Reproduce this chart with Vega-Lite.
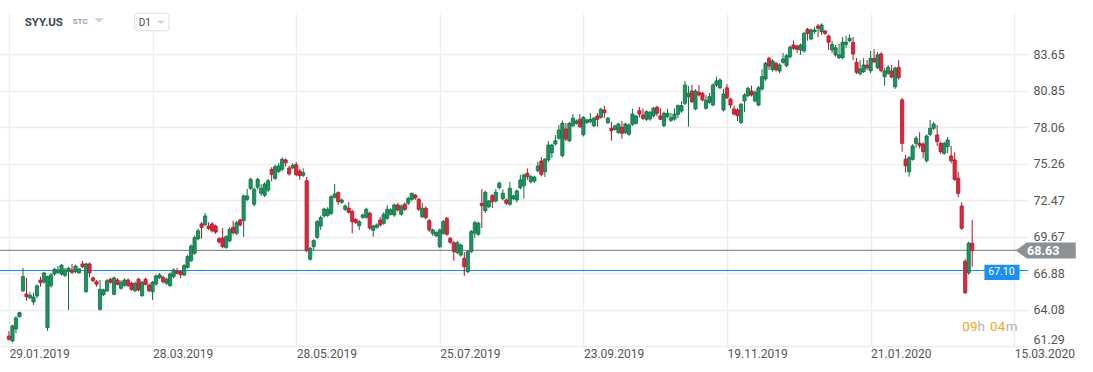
{
"$schema": "https://vega.github.io/schema/vega-lite/v6.json",
"width": 1028, "height": 333,
"autosize": {"type": "none"},
"padding": {"left": 0, "top": 14, "right": 65, "bottom": 25},
"background": "#ffffff",
"config": {"font": "Roboto", "view": {"stroke": null}},
"data": {"values": [
{"i":0,"o":62.09,"h":62.47,"l":61.75,"c":61.84},
{"i":1,"o":61.72,"h":62.95,"l":61.6,"c":62.86},
{"i":2,"o":62.63,"h":63.6,"l":62.32,"c":63.47},
{"i":3,"o":63.57,"h":63.95,"l":63.5,"c":63.87},
{"i":4,"o":65.55,"h":67.29,"l":65.45,"c":66.63},
{"i":5,"o":65.3,"h":66.53,"l":64.79,"c":65.1},
{"i":6,"o":65.02,"h":65.45,"l":64.9,"c":65.2},
{"i":7,"o":64.69,"h":65.4,"l":64.46,"c":65.07},
{"i":8,"o":65.15,"h":66.05,"l":65.0,"c":65.92},
{"i":9,"o":66.37,"h":66.63,"l":65.86,"c":66.17},
{"i":10,"o":66.22,"h":67.0,"l":66.1,"c":66.91},
{"i":11,"o":62.73,"h":66.7,"l":62.5,"c":66.63},
{"i":12,"o":65.94,"h":66.9,"l":65.8,"c":66.76},
{"i":13,"o":66.83,"h":67.3,"l":66.7,"c":67.19},
{"i":14,"o":66.96,"h":67.44,"l":66.85,"c":67.14},
{"i":15,"o":66.83,"h":67.6,"l":66.7,"c":67.5},
{"i":16,"o":66.73,"h":67.3,"l":66.6,"c":67.14},
{"i":17,"o":67.04,"h":67.35,"l":64.08,"c":67.27},
{"i":18,"o":67.14,"h":67.6,"l":66.85,"c":66.96},
{"i":19,"o":67.01,"h":67.55,"l":66.9,"c":67.44},
{"i":20,"o":66.93,"h":67.3,"l":66.85,"c":67.21},
{"i":21,"o":67.6,"h":67.83,"l":67.3,"c":67.39},
{"i":22,"o":65.48,"h":67.7,"l":65.4,"c":67.6},
{"i":23,"o":67.6,"h":67.7,"l":66.58,"c":66.93},
{"i":24,"o":66.53,"h":66.65,"l":66.2,"c":66.32},
{"i":25,"o":66.24,"h":66.35,"l":65.86,"c":66.05},
{"i":26,"o":64.13,"h":66.37,"l":64.03,"c":65.66},
{"i":27,"o":65.25,"h":65.7,"l":65.15,"c":65.61},
{"i":28,"o":65.55,"h":66.45,"l":65.45,"c":66.32},
{"i":29,"o":66.42,"h":66.55,"l":66.1,"c":66.2},
{"i":30,"o":65.28,"h":66.65,"l":65.2,"c":66.53},
{"i":31,"o":66.37,"h":66.5,"l":65.95,"c":66.05},
{"i":32,"o":65.74,"h":66.35,"l":65.65,"c":66.2},
{"i":33,"o":65.97,"h":66.5,"l":65.85,"c":66.37},
{"i":34,"o":66.37,"h":66.5,"l":65.85,"c":65.94},
{"i":35,"o":66.12,"h":66.25,"l":65.55,"c":65.66},
{"i":36,"o":65.56,"h":66.25,"l":65.45,"c":66.12},
{"i":37,"o":66.43,"h":66.55,"l":65.5,"c":65.61},
{"i":38,"o":65.17,"h":66.3,"l":65.1,"c":66.2},
{"i":39,"o":66.43,"h":66.55,"l":65.95,"c":66.05},
{"i":40,"o":65.99,"h":66.1,"l":65.45,"c":65.56},
{"i":41,"o":65.48,"h":66.3,"l":64.85,"c":66.2},
{"i":42,"o":66.07,"h":66.8,"l":65.95,"c":66.68},
{"i":43,"o":66.55,"h":66.9,"l":66.45,"c":66.76},
{"i":44,"o":66.58,"h":66.7,"l":66.1,"c":66.24},
{"i":45,"o":66.12,"h":66.55,"l":66.0,"c":66.43},
{"i":46,"o":65.94,"h":66.95,"l":65.85,"c":66.83},
{"i":47,"o":66.63,"h":67.25,"l":66.5,"c":67.14},
{"i":48,"o":67.04,"h":67.3,"l":66.8,"c":66.89},
{"i":49,"o":67.01,"h":67.1,"l":66.53,"c":66.78},
{"i":50,"o":66.76,"h":67.6,"l":66.65,"c":67.47},
{"i":51,"o":67.34,"h":68.3,"l":67.25,"c":68.16},
{"i":52,"o":67.85,"h":69.1,"l":67.75,"c":68.97},
{"i":53,"o":68.42,"h":69.75,"l":68.3,"c":69.61},
{"i":54,"o":69.53,"h":70.3,"l":69.4,"c":70.14},
{"i":55,"o":70.66,"h":70.8,"l":69.53,"c":70.4},
{"i":56,"o":70.6,"h":71.5,"l":70.5,"c":71.27},
{"i":57,"o":70.5,"h":70.8,"l":70.2,"c":70.3},
{"i":58,"o":70.66,"h":70.8,"l":70.0,"c":70.14},
{"i":59,"o":70.5,"h":70.6,"l":69.9,"c":70.04},
{"i":60,"o":69.53,"h":69.65,"l":69.15,"c":69.28},
{"i":61,"o":69.58,"h":70.35,"l":68.8,"c":68.92},
{"i":62,"o":68.87,"h":69.8,"l":68.75,"c":69.68},
{"i":63,"o":69.38,"h":70.4,"l":69.25,"c":70.25},
{"i":64,"o":70.4,"h":70.9,"l":69.85,"c":69.99},
{"i":65,"o":69.94,"h":70.9,"l":69.8,"c":70.75},
{"i":66,"o":70.96,"h":71.06,"l":70.45,"c":70.58},
{"i":67,"o":70.91,"h":72.9,"l":69.66,"c":72.8},
{"i":68,"o":72.54,"h":73.33,"l":72.4,"c":72.8},
{"i":69,"o":73.38,"h":74.2,"l":73.25,"c":74.07},
{"i":70,"o":72.16,"h":73.45,"l":72.0,"c":73.31},
{"i":71,"o":73.46,"h":74.2,"l":73.3,"c":74.07},
{"i":72,"o":73.0,"h":73.7,"l":72.8,"c":73.38},
{"i":73,"o":72.85,"h":73.85,"l":72.7,"c":73.71},
{"i":74,"o":73.25,"h":74.1,"l":73.1,"c":73.96},
{"i":75,"o":74.84,"h":75.0,"l":73.92,"c":74.45},
{"i":76,"o":74.15,"h":75.2,"l":74.0,"c":75.04},
{"i":77,"o":74.68,"h":75.32,"l":74.55,"c":75.09},
{"i":78,"o":74.84,"h":75.75,"l":74.7,"c":75.6},
{"i":79,"o":75.55,"h":75.68,"l":75.04,"c":75.34},
{"i":80,"o":74.94,"h":75.1,"l":74.35,"c":74.48},
{"i":81,"o":74.94,"h":75.3,"l":74.85,"c":75.14},
{"i":82,"o":75.19,"h":75.4,"l":74.3,"c":74.42},
{"i":83,"o":74.71,"h":74.85,"l":74.04,"c":74.35},
{"i":84,"o":74.38,"h":74.91,"l":74.25,"c":74.58},
{"i":85,"o":73.96,"h":74.25,"l":68.5,"c":68.62},
{"i":86,"o":67.96,"h":68.9,"l":67.85,"c":68.8},
{"i":87,"o":68.92,"h":69.5,"l":68.67,"c":69.38},
{"i":88,"o":69.64,"h":70.95,"l":69.5,"c":70.83},
{"i":89,"o":70.5,"h":71.3,"l":70.2,"c":71.14},
{"i":90,"o":71.27,"h":71.9,"l":71.15,"c":71.8},
{"i":91,"o":71.32,"h":71.95,"l":71.2,"c":71.78},
{"i":92,"o":71.47,"h":72.85,"l":71.35,"c":72.74},
{"i":93,"o":72.7,"h":73.71,"l":72.6,"c":72.95},
{"i":94,"o":73.05,"h":73.15,"l":72.1,"c":72.36},
{"i":95,"o":72.31,"h":72.6,"l":72.2,"c":72.49},
{"i":96,"o":71.78,"h":72.15,"l":71.65,"c":72.03},
{"i":97,"o":71.86,"h":72.34,"l":71.45,"c":71.55},
{"i":98,"o":71.62,"h":71.75,"l":69.95,"c":70.83},
{"i":99,"o":71.0,"h":71.1,"l":70.65,"c":70.78},
{"i":100,"o":70.53,"h":70.95,"l":70.2,"c":70.83},
{"i":101,"o":71.17,"h":71.45,"l":71.05,"c":71.34},
{"i":102,"o":71.17,"h":71.9,"l":71.05,"c":71.78},
{"i":103,"o":71.47,"h":71.6,"l":70.2,"c":70.35},
{"i":104,"o":70.17,"h":70.6,"l":69.68,"c":70.5},
{"i":105,"o":70.4,"h":70.7,"l":70.3,"c":70.58},
{"i":106,"o":70.96,"h":71.19,"l":70.45,"c":70.58},
{"i":107,"o":70.71,"h":71.55,"l":70.6,"c":71.4},
{"i":108,"o":71.09,"h":72.1,"l":70.95,"c":71.78},
{"i":109,"o":71.4,"h":71.85,"l":71.3,"c":71.73},
{"i":110,"o":71.34,"h":72.2,"l":71.2,"c":72.11},
{"i":111,"o":72.11,"h":72.26,"l":71.6,"c":71.73},
{"i":112,"o":71.4,"h":72.15,"l":71.3,"c":72.03},
{"i":113,"o":72.16,"h":72.3,"l":71.65,"c":71.78},
{"i":114,"o":72.24,"h":72.75,"l":72.1,"c":72.62},
{"i":115,"o":72.54,"h":73.05,"l":72.4,"c":73.0},
{"i":116,"o":72.87,"h":72.95,"l":72.5,"c":72.64},
{"i":117,"o":72.54,"h":72.65,"l":71.65,"c":71.78},
{"i":118,"o":71.21,"h":72.26,"l":71.1,"c":71.86},
{"i":119,"o":71.86,"h":72.0,"l":71.0,"c":71.14},
{"i":120,"o":70.91,"h":71.05,"l":70.05,"c":70.2},
{"i":121,"o":69.94,"h":70.3,"l":69.74,"c":70.2},
{"i":122,"o":69.76,"h":70.1,"l":69.65,"c":69.99},
{"i":123,"o":68.92,"h":70.3,"l":68.8,"c":70.2},
{"i":124,"o":69.94,"h":70.96,"l":69.85,"c":70.83},
{"i":125,"o":71.09,"h":71.2,"l":69.75,"c":69.87},
{"i":126,"o":69.56,"h":69.65,"l":69.15,"c":69.26},
{"i":127,"o":69.22,"h":69.35,"l":67.85,"c":68.54},
{"i":128,"o":68.46,"h":69.35,"l":68.35,"c":69.22},
{"i":129,"o":68.28,"h":69.15,"l":68.15,"c":69.05},
{"i":130,"o":68.03,"h":68.5,"l":66.68,"c":67.39},
{"i":131,"o":67.01,"h":68.65,"l":66.9,"c":68.54},
{"i":132,"o":68.54,"h":70.2,"l":68.45,"c":70.07},
{"i":133,"o":69.96,"h":70.9,"l":69.6,"c":70.76},
{"i":134,"o":69.87,"h":70.85,"l":69.75,"c":70.71},
{"i":135,"o":72.24,"h":73.33,"l":70.35,"c":72.05},
{"i":136,"o":71.67,"h":73.2,"l":71.5,"c":73.08},
{"i":137,"o":71.98,"h":72.5,"l":71.85,"c":72.41},
{"i":138,"o":72.82,"h":72.95,"l":71.88,"c":72.36},
{"i":139,"o":72.41,"h":73.33,"l":72.3,"c":73.08},
{"i":140,"o":73.43,"h":73.9,"l":73.3,"c":73.77},
{"i":141,"o":72.59,"h":73.3,"l":72.45,"c":73.0},
{"i":142,"o":72.49,"h":72.6,"l":72.1,"c":72.24},
{"i":143,"o":72.16,"h":73.87,"l":72.05,"c":73.38},
{"i":144,"o":72.59,"h":72.9,"l":72.45,"c":72.8},
{"i":145,"o":72.49,"h":73.3,"l":72.3,"c":73.18},
{"i":146,"o":73.43,"h":74.4,"l":73.3,"c":74.02},
{"i":147,"o":73.58,"h":74.5,"l":72.6,"c":74.4},
{"i":148,"o":74.53,"h":74.91,"l":74.02,"c":74.27},
{"i":149,"o":73.89,"h":74.4,"l":73.75,"c":74.27},
{"i":150,"o":73.94,"h":74.35,"l":73.8,"c":74.24},
{"i":151,"o":74.73,"h":75.4,"l":74.6,"c":75.09},
{"i":152,"o":75.47,"h":75.78,"l":74.3,"c":74.45},
{"i":153,"o":74.65,"h":75.7,"l":74.25,"c":75.6},
{"i":154,"o":75.55,"h":77.0,"l":75.4,"c":76.69},
{"i":155,"o":76.11,"h":76.8,"l":75.7,"c":76.69},
{"i":156,"o":76.77,"h":77.46,"l":76.65,"c":77.02},
{"i":157,"o":77.21,"h":78.22,"l":77.1,"c":77.84},
{"i":158,"o":75.88,"h":78.58,"l":75.75,"c":78.35},
{"i":159,"o":77.92,"h":78.38,"l":77.0,"c":77.15},
{"i":160,"o":77.02,"h":78.45,"l":76.9,"c":78.35},
{"i":161,"o":78.17,"h":79.06,"l":78.05,"c":78.74},
{"i":162,"o":78.35,"h":78.65,"l":78.25,"c":78.53},
{"i":163,"o":78.66,"h":79.06,"l":78.0,"c":78.09},
{"i":164,"o":77.48,"h":78.9,"l":77.35,"c":78.81},
{"i":165,"o":78.4,"h":78.7,"l":78.3,"c":78.61},
{"i":166,"o":78.48,"h":79.14,"l":78.35,"c":78.66},
{"i":167,"o":78.17,"h":78.85,"l":78.05,"c":78.74},
{"i":168,"o":78.91,"h":79.14,"l":78.09,"c":78.66},
{"i":169,"o":78.81,"h":79.55,"l":78.7,"c":79.42},
{"i":170,"o":79.37,"h":79.68,"l":78.76,"c":79.16},
{"i":171,"o":78.4,"h":78.85,"l":78.3,"c":78.74},
{"i":172,"o":77.97,"h":78.48,"l":77.02,"c":77.79},
{"i":173,"o":77.89,"h":78.25,"l":77.8,"c":78.15},
{"i":174,"o":77.64,"h":78.4,"l":77.55,"c":78.3},
{"i":175,"o":78.05,"h":78.53,"l":77.18,"c":77.59},
{"i":176,"o":77.64,"h":78.4,"l":77.55,"c":78.3},
{"i":177,"o":77.51,"h":78.35,"l":77.4,"c":78.22},
{"i":178,"o":78.28,"h":79.47,"l":78.15,"c":79.06},
{"i":179,"o":78.35,"h":79.0,"l":78.25,"c":78.91},
{"i":180,"o":79.32,"h":79.6,"l":78.81,"c":79.06},
{"i":181,"o":78.99,"h":79.5,"l":78.6,"c":78.74},
{"i":182,"o":78.66,"h":79.35,"l":78.53,"c":79.24},
{"i":183,"o":78.68,"h":79.3,"l":78.55,"c":79.19},
{"i":184,"o":78.93,"h":79.6,"l":78.8,"c":79.5},
{"i":185,"o":79.58,"h":79.7,"l":78.9,"c":79.12},
{"i":186,"o":78.91,"h":79.5,"l":78.6,"c":78.66},
{"i":187,"o":78.17,"h":79.25,"l":78.05,"c":79.12},
{"i":188,"o":78.86,"h":79.47,"l":78.75,"c":79.12},
{"i":189,"o":78.58,"h":79.14,"l":78.45,"c":78.78},
{"i":190,"o":78.68,"h":79.5,"l":78.55,"c":79.06},
{"i":191,"o":79.04,"h":79.8,"l":78.76,"c":79.7},
{"i":192,"o":79.29,"h":80.04,"l":79.15,"c":79.7},
{"i":193,"o":79.88,"h":81.59,"l":79.75,"c":81.28},
{"i":194,"o":80.39,"h":81.2,"l":78.09,"c":80.65},
{"i":195,"o":80.82,"h":81.3,"l":79.9,"c":80.01},
{"i":196,"o":79.45,"h":80.95,"l":79.35,"c":80.82},
{"i":197,"o":80.72,"h":81.28,"l":80.4,"c":80.52},
{"i":198,"o":80.65,"h":80.75,"l":80.04,"c":80.14},
{"i":199,"o":79.5,"h":80.52,"l":79.4,"c":80.11},
{"i":200,"o":79.96,"h":80.67,"l":79.85,"c":80.39},
{"i":201,"o":79.75,"h":81.4,"l":79.65,"c":81.28},
{"i":202,"o":81.28,"h":81.92,"l":81.15,"c":81.59},
{"i":203,"o":81.07,"h":81.8,"l":80.95,"c":81.66},
{"i":204,"o":79.37,"h":80.98,"l":79.25,"c":80.59},
{"i":205,"o":81.07,"h":81.36,"l":80.2,"c":80.31},
{"i":206,"o":80.21,"h":80.3,"l":79.5,"c":79.75},
{"i":207,"o":79.45,"h":79.73,"l":78.95,"c":79.06},
{"i":208,"o":79.37,"h":79.5,"l":78.53,"c":78.94},
{"i":209,"o":78.43,"h":79.9,"l":78.3,"c":79.81},
{"i":210,"o":80.06,"h":80.65,"l":79.2,"c":80.52},
{"i":211,"o":80.46,"h":81.15,"l":80.35,"c":81.03},
{"i":212,"o":80.82,"h":81.23,"l":80.4,"c":80.52},
{"i":213,"o":80.06,"h":80.85,"l":79.95,"c":80.72},
{"i":214,"o":79.75,"h":81.2,"l":79.65,"c":81.07},
{"i":215,"o":80.98,"h":82.5,"l":80.85,"c":81.92},
{"i":216,"o":81.74,"h":83.05,"l":81.6,"c":82.94},
{"i":217,"o":83.32,"h":83.45,"l":82.43,"c":82.73},
{"i":218,"o":82.45,"h":83.25,"l":82.3,"c":83.12},
{"i":219,"o":82.94,"h":83.05,"l":82.3,"c":82.45},
{"i":220,"o":82.35,"h":82.95,"l":82.2,"c":82.81},
{"i":221,"o":83.02,"h":83.73,"l":82.9,"c":83.27},
{"i":222,"o":82.76,"h":83.65,"l":82.65,"c":83.52},
{"i":223,"o":83.45,"h":84.3,"l":83.3,"c":84.16},
{"i":224,"o":84.34,"h":84.67,"l":83.95,"c":84.09},
{"i":225,"o":84.26,"h":84.35,"l":83.73,"c":84.01},
{"i":226,"o":83.96,"h":84.45,"l":83.58,"c":84.34},
{"i":227,"o":83.88,"h":85.35,"l":83.75,"c":85.23},
{"i":228,"o":85.54,"h":85.64,"l":84.67,"c":85.23},
{"i":229,"o":84.8,"h":85.6,"l":84.7,"c":85.49},
{"i":230,"o":85.36,"h":85.72,"l":85.2,"c":85.49},
{"i":231,"o":85.79,"h":85.95,"l":84.93,"c":85.62},
{"i":232,"o":85.36,"h":86.0,"l":85.1,"c":85.87},
{"i":233,"o":85.41,"h":85.5,"l":85.1,"c":85.23},
{"i":234,"o":85.03,"h":85.15,"l":83.96,"c":84.55},
{"i":235,"o":83.96,"h":84.65,"l":83.73,"c":84.39},
{"i":236,"o":83.58,"h":84.34,"l":83.45,"c":84.13},
{"i":237,"o":83.37,"h":84.42,"l":83.25,"c":83.58},
{"i":238,"o":83.37,"h":84.95,"l":83.25,"c":84.55},
{"i":239,"o":84.39,"h":85.03,"l":84.1,"c":84.55},
{"i":240,"o":84.67,"h":85.13,"l":84.55,"c":84.85},
{"i":241,"o":84.55,"h":84.95,"l":83.19,"c":83.65},
{"i":242,"o":83.02,"h":83.35,"l":82.12,"c":82.25},
{"i":243,"o":82.15,"h":83.19,"l":82.0,"c":82.51},
{"i":244,"o":82.3,"h":83.35,"l":82.2,"c":82.81},
{"i":245,"o":82.81,"h":83.19,"l":82.43,"c":82.6},
{"i":246,"o":82.37,"h":83.88,"l":82.18,"c":83.32},
{"i":247,"o":83.32,"h":84.03,"l":82.96,"c":83.06},
{"i":248,"o":82.6,"h":83.8,"l":82.5,"c":83.58},
{"i":249,"o":83.65,"h":83.8,"l":82.25,"c":82.38},
{"i":250,"o":81.92,"h":82.58,"l":81.23,"c":82.35},
{"i":251,"o":82.18,"h":82.81,"l":82.05,"c":82.63},
{"i":252,"o":82.35,"h":82.81,"l":81.79,"c":81.89},
{"i":253,"o":81.15,"h":82.7,"l":80.98,"c":82.56},
{"i":254,"o":82.63,"h":83.19,"l":81.7,"c":81.84},
{"i":255,"o":80.14,"h":80.29,"l":76.18,"c":76.82},
{"i":256,"o":75.6,"h":75.95,"l":74.58,"c":75.11},
{"i":257,"o":74.65,"h":75.85,"l":74.27,"c":75.72},
{"i":258,"o":75.6,"h":76.75,"l":75.5,"c":76.62},
{"i":259,"o":76.82,"h":77.38,"l":76.47,"c":77.21},
{"i":260,"o":76.82,"h":77.67,"l":76.44,"c":76.64},
{"i":261,"o":76.77,"h":76.9,"l":75.68,"c":76.18},
{"i":262,"o":75.49,"h":77.5,"l":75.35,"c":77.38},
{"i":263,"o":77.51,"h":78.61,"l":77.38,"c":77.97},
{"i":264,"o":77.97,"h":78.45,"l":77.85,"c":78.3},
{"i":265,"o":77.46,"h":78.22,"l":76.62,"c":76.95},
{"i":266,"o":76.82,"h":76.95,"l":76.0,"c":76.18},
{"i":267,"o":76.06,"h":76.95,"l":75.95,"c":76.82},
{"i":268,"o":76.57,"h":77.31,"l":76.08,"c":77.08},
{"i":269,"o":75.85,"h":76.62,"l":75.3,"c":75.49},
{"i":270,"o":75.55,"h":76.14,"l":73.95,"c":74.07},
{"i":271,"o":74.15,"h":74.65,"l":72.7,"c":73.0},
{"i":272,"o":72.03,"h":72.31,"l":70.2,"c":70.33},
{"i":273,"o":67.8,"h":67.96,"l":65.3,"c":65.4},
{"i":274,"o":66.93,"h":69.3,"l":66.76,"c":69.18},
{"i":275,"o":69.18,"h":70.96,"l":67.39,"c":68.63}
]},
"layer": [
{"data": {"values": [{}]},
 "mark": {"type": "rule", "color": "#8a9296", "strokeWidth": 1.2},
 "encoding": {"y": {"datum": 68.63}}},
{"data": {"values": [{}]},
 "mark": {"type": "rule", "color": "#1e8ff0", "strokeWidth": 1.2},
 "encoding": {"y": {"datum": 67.10}}},
{"mark": {"type": "rule", "strokeWidth": 1},
 "encoding": {
  "x": {"field": "i", "type": "quantitative",
        "scale": {"domain": [-1.131, 289.51], "nice": false, "zero": false},
        "axis": {"orient": "bottom", "values": [0, 41, 82, 123, 164, 205, 246, 287],
                 "labelExpr": "datum.value==0?'29.01.2019':datum.value==41?'28.03.2019':datum.value==82?'28.05.2019':datum.value==123?'25.07.2019':datum.value==164?'23.09.2019':datum.value==205?'19.11.2019':datum.value==246?'21.01.2020':'15.03.2020'",
                 "grid": true, "gridColor": "#ededed", "gridWidth": 1.5, "ticks": false, "domain": false,
                 "labelAlign": "left", "labelBaseline": "top", "labelPadding": 1,
                 "labelFontSize": 12, "labelColor": "#555555", "labelFont": "Roboto",
                 "labelOverlap": false, "labelFlush": false, "title": null}},
  "y": {"field": "l", "type": "quantitative",
        "scale": {"domain": [61.25, 86.71], "nice": false, "zero": false},
        "axis": {"orient": "right", "values": [61.29, 64.08, 66.88, 69.67, 72.47, 75.26, 78.06, 80.85, 83.65],
                 "format": ".2f", "grid": true, "gridColor": "#ededed", "gridWidth": 1.5, "ticks": false, "domain": false,
                 "labelPadding": 5, "labelFontSize": 12.5, "labelColor": "#555555", "labelFont": "Roboto",
                 "labelBaseline": {"condition": {"test": "datum.value < 62", "value": "bottom"}, "value": "middle"},
                 "labelOverlap": false, "labelFlush": false, "title": null}},
  "y2": {"field": "h"},
  "color": {"condition": {"test": "datum.c >= datum.o", "value": "#0d6e41"}, "value": "#b3142a"}
 }},
{"mark": {"type": "bar", "width": 3.2, "strokeWidth": 0.8},
 "encoding": {
  "x": {"field": "i", "type": "quantitative"},
  "y": {"field": "o", "type": "quantitative"},
  "y2": {"field": "c"},
  "fill": {"condition": {"test": "datum.c >= datum.o", "value": "#1d9461"}, "value": "#e2253b"},
  "stroke": {"condition": {"test": "datum.c >= datum.o", "value": "#0d6e41"}, "value": "#b3142a"}
 }},
{"data": {"values": [{}]},
 "mark": {"type": "point", "shape": "M-1,0L-0.633,-0.267L1,-0.267L1,0.267L-0.633,0.267Z", "filled": true, "opacity": 1, "color": "#8a9296", "size": 3600},
 "encoding": {"x": {"datum": 296.01}, "y": {"datum": 68.63}}},
{"data": {"values": [{}]},
 "mark": {"type": "text", "text": "68.63", "color": "#ffffff", "fontWeight": "bold", "fontSize": 12.5, "align": "center", "baseline": "middle", "font": "Roboto"},
 "encoding": {"x": {"datum": 295.3}, "y": {"datum": 68.6}}},
{"data": {"values": [{}]},
 "mark": {"type": "rect", "color": "#1e8ff0", "opacity": 1},
 "encoding": {"x": {"datum": 278.49}, "x2": {"datum": 288.52}, "y": {"datum": 67.54}, "y2": {"datum": 66.37}}},
{"data": {"values": [{}]},
 "mark": {"type": "text", "text": "67.10", "color": "#ffffff", "fontSize": 10.5, "align": "center", "baseline": "middle", "font": "Roboto"},
 "encoding": {"x": {"datum": 283.35}, "y": {"datum": 66.97}}},
{"data": {"values": [{}]},
 "mark": {"type": "text", "text": "09", "color": "#f5a623", "fontSize": 13.5, "align": "left", "baseline": "middle", "font": "Roboto"},
 "encoding": {"x": {"datum": 272.18}, "y": {"datum": 62.8}}},
{"data": {"values": [{}]},
 "mark": {"type": "text", "text": "h", "color": "#b0b0b0", "fontSize": 13.5, "align": "left", "baseline": "middle", "font": "Roboto"},
 "encoding": {"x": {"datum": 276.5}, "y": {"datum": 62.8}}},
{"data": {"values": [{}]},
 "mark": {"type": "text", "text": "04", "color": "#f5a623", "fontSize": 13.5, "align": "left", "baseline": "middle", "font": "Roboto"},
 "encoding": {"x": {"datum": 280.1}, "y": {"datum": 62.8}}},
{"data": {"values": [{}]},
 "mark": {"type": "text", "text": "m", "color": "#b0b0b0", "fontSize": 13.5, "align": "left", "baseline": "middle", "font": "Roboto"},
 "encoding": {"x": {"datum": 284.6}, "y": {"datum": 62.8}}},
{"data": {"values": [{}]},
 "mark": {"type": "text", "text": "SYY.US", "color": "#3c4650", "fontSize": 11.5, "fontWeight": "bold", "align": "left", "baseline": "middle", "font": "Roboto"},
 "encoding": {"x": {"datum": 4.52}, "y": {"datum": 86.06}}},
{"data": {"values": [{}]},
 "mark": {"type": "text", "text": "STC", "color": "#94a3b4", "fontSize": 8, "fontWeight": "bold", "align": "left", "baseline": "middle", "font": "Roboto"},
 "encoding": {"x": {"datum": 18.18}, "y": {"datum": 86.08}}},
{"data": {"values": [{}]},
 "mark": {"type": "point", "shape": "M-1,-0.4L1,-0.4L0,0.4Z", "filled": true, "opacity": 1, "color": "#d0d0d0", "size": 100},
 "encoding": {"x": {"datum": 25.73}, "y": {"datum": 86.23}}},
{"data": {"values": [{}]},
 "mark": {"type": "rect", "fill": "#ffffff", "stroke": "#dedede", "strokeWidth": 1, "cornerRadius": 3, "opacity": 1},
 "encoding": {"x": {"datum": 35.91}, "x2": {"datum": 45.72}, "y": {"datum": 86.76}, "y2": {"datum": 85.43}}},
{"data": {"values": [{}]},
 "mark": {"type": "text", "text": "D1", "color": "#4a4a4a", "fontSize": 10, "align": "left", "baseline": "middle", "font": "Roboto"},
 "encoding": {"x": {"datum": 37.04}, "y": {"datum": 86.04}}},
{"data": {"values": [{}]},
 "mark": {"type": "point", "shape": "M-1,-0.4L1,-0.4L0,0.4Z", "filled": true, "opacity": 1, "color": "#d0d0d0", "size": 64},
 "encoding": {"x": {"datum": 43.4}, "y": {"datum": 86.08}}}
]
}
